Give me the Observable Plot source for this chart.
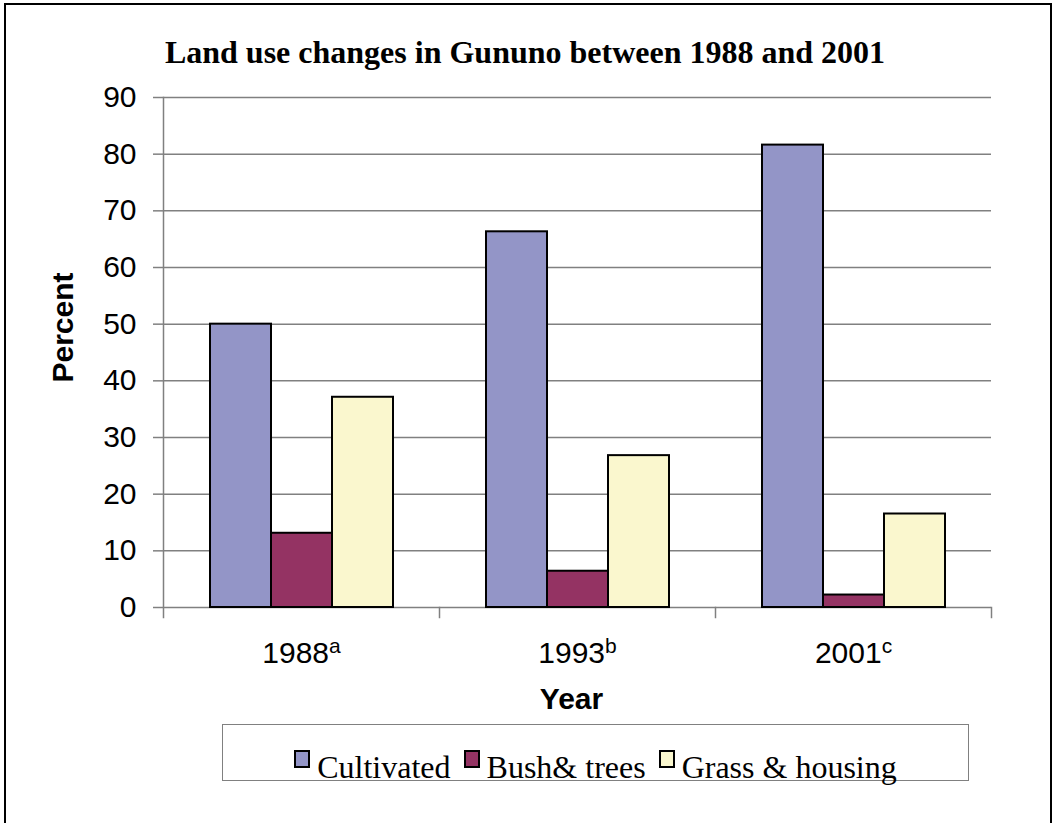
<!DOCTYPE html>
<html>
<head>
<meta charset="utf-8">
<script src="https://cdn.jsdelivr.net/npm/d3@7"></script>
<script src="https://cdn.jsdelivr.net/npm/@observablehq/plot@0.6"></script>
<style>
  body { margin: 0; background: #fff; }
  #wrap { position: relative; width: 1056px; height: 823px; overflow: hidden; background: #fff; }
  #border { position: absolute; left: 4px; top: 3px; width: 1048px; height: 900px; border: 2px solid #000; box-sizing: border-box; }
  #title { position: absolute; top: 36px; left: 525px; transform: translateX(-50%); font: bold 32px/32px "Liberation Serif", "Times New Roman", serif; white-space: nowrap; color: #000; }
  #chart { position: absolute; left: 0; top: 0; }
  #legend { position: absolute; left: 222px; top: 724px; width: 747px; height: 57px; border: 1.5px solid #808080; box-sizing: border-box; background: #fff; }
  #legend .row { position: absolute; left: 0; right: 0; top: 25px; text-align: center; white-space: nowrap; font: 32px/32px "Liberation Serif", "Times New Roman", serif; color: #000; }
  #legend .sw { display: inline-block; width: 16px; height: 18px; border: 2px solid #000; box-sizing: border-box; vertical-align: 10px; margin-right: 7px; }
  #legend .item + .item .sw { margin-left: 13px; }
  g[aria-label="y-axis label"] text, g[aria-label="fx-axis label"] text { font-weight: bold; font-size: 30px; }
</style>
</head>
<body>
<div id="wrap">
  <div id="border"></div>
  <div id="title">Land use changes in Gununo between 1988 and 2001</div>
  <div id="chart"></div>
  <div id="legend"><div class="row"></div></div>
</div>
<script>
// ---- data ----
const years = ["1988", "1993", "2001"];
const yearNotes = ["a", "b", "c"];
const series = ["Cultivated", "Bush& trees", "Grass & housing"];
const cultivated = [50, 66.3, 81.6];
const bushTrees = [13.1, 6.4, 2.2];
const grassHousing = [37.1, 26.8, 16.5];
const yTicks = [0, 10, 20, 30, 40, 50, 60, 70, 80, 90];
const colors = ["#9395c7", "#943363", "#faf7ce"];

const valuesBySeries = [cultivated, bushTrees, grassHousing];
const data = years.flatMap((yr, i) =>
  series.map((s, j) => ({ year: yr, series: s, value: valuesBySeries[j][i] }))
);

const W = 1056, H = 720, mL = 162, mR = 64, mT = 97, mB = 113;
const plotH = H - mT - mB;
const gray = "#808080";

const chart = Plot.plot({
  width: W, height: H,
  marginLeft: mL, marginRight: mR, marginTop: mT, marginBottom: mB,
  style: { fontFamily: '"Liberation Sans", Arial, sans-serif', fontSize: "30px", color: "#000", background: "transparent", overflow: "visible" },
  fx: { domain: years, padding: 0, label: null },
  x: { domain: series, paddingInner: 0, paddingOuter: 0.758, axis: null },
  y: { domain: [0, 90] },
  color: { domain: series, range: colors },
  marks: [
    Plot.gridY(yTicks, { stroke: gray, strokeOpacity: 1, strokeWidth: 1.5 }),
    Plot.frame({ anchor: "right", stroke: gray, strokeWidth: 1.5, insetTop: plotH, insetBottom: -10 }),
    Plot.frame({ anchor: "left", facet: "super", stroke: gray, strokeWidth: 1.5, insetBottom: -10 }),
    Plot.barY(data, { fx: "year", x: "series", y: "value", fill: "series", stroke: "#000", strokeWidth: 2 }),
    Plot.axisY(yTicks, { tickSize: 10, tickPadding: 17, stroke: gray, strokeWidth: 1.5, fontSize: 30,
      label: "Percent", labelAnchor: "center", labelArrow: "none", labelOffset: 112 }),
    Plot.axisFx({ anchor: "bottom", tickSize: 0, tickPadding: 34, fontSize: 30,
      label: "Year", labelAnchor: "center", labelArrow: "none", labelOffset: 101 })
  ]
});
document.getElementById("chart").appendChild(chart);

// nudge axis titles to match the original placement (keep Plot's own transform)
function nudge(sel, dx, dy) {
  const g = chart.querySelector(sel);
  if (!g) return;
  const prev = g.getAttribute("transform") || "";
  g.setAttribute("transform", `translate(${dx},${dy}) ${prev}`);
}
nudge('g[aria-label="y-axis label"]', 0, -25);
nudge('g[aria-label="fx-axis label"]', -6, 0);

// superscript notes on year labels
const ns = "http://www.w3.org/2000/svg";
chart.querySelectorAll('g[aria-label^="fx-axis tick label"] text').forEach(t => {
  const k = years.indexOf(t.textContent.trim());
  if (k < 0) return;
  const ts = document.createElementNS(ns, "tspan");
  ts.setAttribute("font-size", "21");
  ts.setAttribute("dy", "-10");
  ts.textContent = yearNotes[k];
  t.appendChild(ts);
});

// legend
const row = document.querySelector("#legend .row");
series.forEach((s, j) => {
  const item = document.createElement("span");
  item.className = "item";
  const sw = document.createElement("span");
  sw.className = "sw";
  sw.style.background = colors[j];
  item.appendChild(sw);
  item.appendChild(document.createTextNode(s));
  row.appendChild(item);
});
</script>
</body>
</html>
